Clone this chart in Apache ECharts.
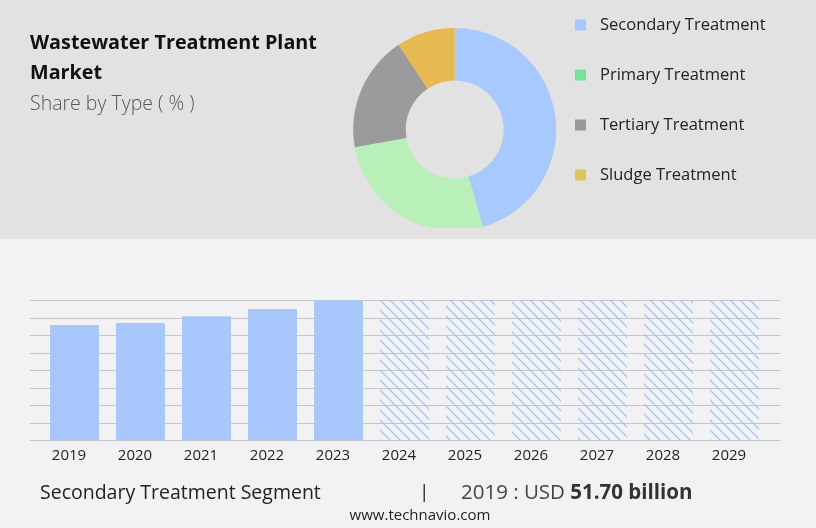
<!DOCTYPE html>
<html>
<head>
<meta charset="utf-8">
<script src="https://cdn.jsdelivr.net/npm/echarts@6/dist/echarts.min.js"></script>
<style>html,body{margin:0;padding:0;background:#f2f2f4}#c{width:816px;height:528px}</style>
</head>
<body>
<div id="c"></div>
<script>
// ---- data ----
const segmentNames = ['Secondary Treatment', 'Primary Treatment', 'Tertiary Treatment', 'Sludge Treatment'];
const segmentShares = [45.5, 26.7, 18.5, 9.3];
const years = ['2019','2020','2021','2022','2023','2024','2025','2026','2027','2028','2029'];
const actualValues = [51.70, 52.6, 55.7, 58.9, 62.8, null, null, null, null, null, null];
const forecastValues = [null, null, null, null, null, 62.8, 62.8, 62.8, 62.8, 62.8, 62.8];
const axisMax = 62.8;
const axisInterval = 7.85;

// ---- styles ----
const pieColors = ['#a8c9fe', '#b9efb9', '#9b9b9b', '#e6ba50'];
const legendColors = ['#a8c8fd', '#77e39a', '#999999', '#dcc55a'];
const barColor = '#a8c8fd';
const font = '"Open Sans", "Noto Sans", sans-serif';

const tile = document.createElement('canvas');
tile.width = 10; tile.height = 10;
const g = tile.getContext('2d');
g.strokeStyle = barColor; g.lineWidth = 1.4;
g.beginPath();
g.moveTo(-2, -2); g.lineTo(12, 12);
g.moveTo(-12, -2); g.lineTo(2, 12);
g.moveTo(8, -2); g.lineTo(22, 12);
g.stroke();

const chart = echarts.init(document.getElementById('c'), null, {renderer: 'canvas'});
chart.setOption({
  animation: false,
  backgroundColor: '#f2f2f4',
  graphic: [
    {type: 'rect', z: -1, shape: {x: 0, y: 0, width: 816, height: 239}, style: {fill: '#e2e2e2'}, silent: true},
    {type: 'rect', z: 50, shape: {x: 300, y: 228, width: 300, height: 11}, style: {fill: '#e2e2e2'}, silent: true},
    {type: 'text', z: 60, x: 30, y: 43, style: {text: 'Wastewater Treatment Plant', font: 'bold 19.8px ' + font, fill: '#111', verticalAlign: 'middle'}},
    {type: 'text', z: 60, x: 30, y: 73, style: {text: 'Market', font: 'bold 19.8px ' + font, fill: '#111', verticalAlign: 'middle'}},
    {type: 'text', z: 60, x: 30, y: 104, style: {text: 'Share by Type ( % )', font: '300 19.5px ' + font, fill: '#555', verticalAlign: 'middle'}},
    {type: 'text', z: 60, x: 40, y: 493, style: {text: 'Secondary Treatment Segment', font: '19.5px ' + font, fill: '#222', verticalAlign: 'middle'}},
    {type: 'text', z: 60, x: 419, y: 493, style: {text: '|', font: '19px ' + font, fill: '#222', verticalAlign: 'middle'}},
    {type: 'text', z: 60, x: 461, y: 493, style: {text: '{a|2019 : USD }{b|51.70 billion}', rich: {a: {font: '20.5px ' + font, fill: '#444'}, b: {font: 'bold 20.5px ' + font, fill: '#333'}}, verticalAlign: 'middle'}},
    {type: 'text', z: 60, x: 420, y: 516, style: {text: 'www.technavio.com', font: '15px ' + font, fill: '#222', align: 'center', verticalAlign: 'middle'}}
  ],
  legend: {
    orient: 'vertical', left: 570, top: 10, itemWidth: 11, itemHeight: 11, itemGap: 30, icon: 'rect',
    selectedMode: false,
    textStyle: {fontFamily: font, fontSize: 16.5, color: '#222', lineHeight: 20, padding: [0, 0, 0, 9]},
    data: segmentNames.map((n, i) => ({name: n, itemStyle: {color: legendColors[i]}}))
  },
  grid: [
    {left: 30, right: 35.3, top: 300.3, bottom: 87.7},
    {left: 41.5, right: 48.5, top: 300.3, bottom: 87.7}
  ],
  xAxis: [
    {gridIndex: 0, type: 'value', show: false},
    {gridIndex: 1, type: 'category', data: years, axisLine: {show: false}, axisTick: {show: false},
     axisLabel: {fontFamily: font, fontSize: 15, color: '#222', margin: 8, padding: [0, 11, 0, 0]}}
  ],
  yAxis: [
    {gridIndex: 0, type: 'value', min: 0, max: axisMax, interval: axisInterval, axisLabel: {show: false},
     axisLine: {show: false}, axisTick: {show: false}, splitLine: {lineStyle: {color: '#c6c6c6', width: 1}}},
    {gridIndex: 1, type: 'value', min: 0, max: axisMax, interval: axisInterval, show: false, splitLine: {show: false}}
  ],
  series: [
    {type: 'pie', center: [454.7, 129.5], radius: [49, 101.5], startAngle: 90, clockwise: true,
     label: {show: false}, labelLine: {show: false}, emphasis: {disabled: true}, silent: true,
     data: segmentNames.map((n, i) => ({name: n, value: segmentShares[i], itemStyle: {color: pieColors[i]}}))},
    {type: 'bar', xAxisIndex: 1, yAxisIndex: 1, data: actualValues, barWidth: 49, barGap: '-100%',
     itemStyle: {color: barColor}, silent: true},
    {type: 'bar', xAxisIndex: 1, yAxisIndex: 1, data: forecastValues, barWidth: 49, barGap: '-100%',
     itemStyle: {color: {image: tile, repeat: 'repeat'}}, silent: true}
  ]
});
</script>
</body>
</html>
